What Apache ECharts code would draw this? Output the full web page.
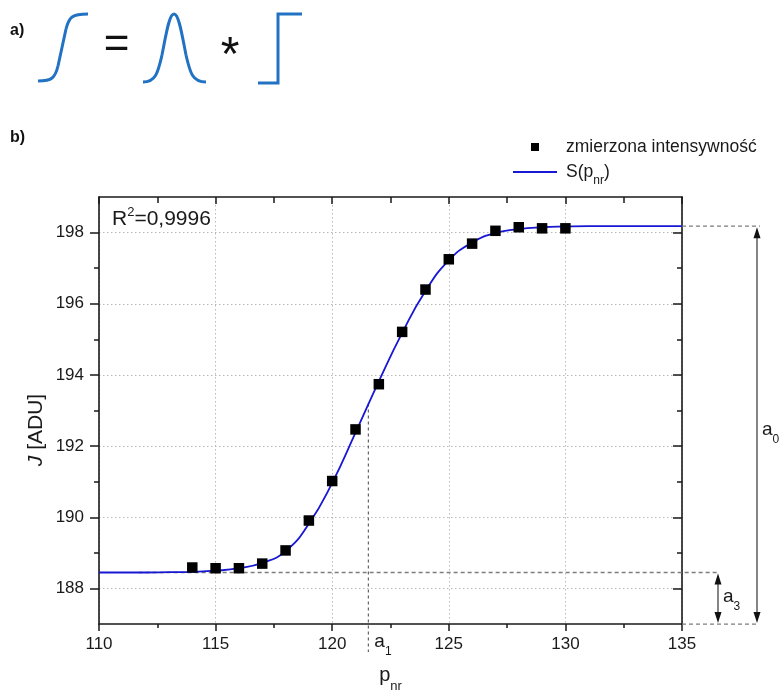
<!DOCTYPE html>
<html>
<head>
<meta charset="utf-8">
<script src="https://cdn.jsdelivr.net/npm/echarts@6/dist/echarts.min.js"></script>
<style>
html,body{margin:0;padding:0;background:#fff;}
#c{width:782px;height:698px;}
</style>
</head>
<body>
<div id="c"></div>
<script>
// ---- data ----
const pnr = [114,115,116,117,118,119,120,121,122,123,124,125,126,127,128,129,130];
const intensity = [188.59,188.57,188.57,188.70,189.07,189.91,191.02,192.47,193.74,195.21,196.40,197.25,197.69,198.05,198.15,198.12,198.12];
const fitP = [110,111,112,113,114,115,116,117,118,119,120,121,122,123,124,125,126,127,128,129,130,131,132,133,134,135];
const fitS = [188.45,188.45,188.45,188.46,188.47,188.50,188.57,188.72,189.05,189.82,190.97,192.38,193.82,195.18,196.36,197.22,197.72,197.99,198.10,198.15,198.17,198.18,198.18,198.18,198.18,198.18];
const yMajorTicks = [188,190,192,194,196,198];
const yMinorTicks = [189,191,193,195,197];
const xMin = 110, xMax = 135, xStep = 5;
const yMin = 187, yMax = 199;
const a1Value = 121.55;   // inflection point
const a1Level = 193.2;    // curve level at a1
const a3Value = 188.45;   // lower plateau
const a0Top = 198.18;     // upper plateau
const a3LineFrom = 111.7;

const FONT = '"Liberation Sans", Arial, sans-serif';
const TXT = '#1a1a1a';
const AX = '#1a1a1a';
const GRIDC = '#b9b9b9';
const BLUE_ICON = '#2272c3';
const CURVE = '#1717d4';

const chart = echarts.init(document.getElementById('c'), null, {renderer: 'canvas'});

const axLine = {show: true, onZero: false, lineStyle: {color: AX, width: 1.6}};
const tickStyle = {color: AX, width: 1.5};

const option = {
  animation: false,
  textStyle: {fontFamily: FONT},
  grid: {left: 99, right: 100, top: 197, bottom: 71, containLabel: false},
  legend: {
    orient: 'vertical',
    left: 508, top: 133, padding: 5,
    itemWidth: 44, itemHeight: 8, itemGap: 1,
    symbolKeepAspect: true,
    data: [
      {name: 'zmierzona intensywność', icon: 'path://M0,0H10V10H0Z', itemStyle: {color: '#000', opacity: 1}},
      {name: 'S(pnr)', icon: 'path://M0,0H44V1.8H0Z', itemStyle: {color: CURVE}}
    ],
    formatter: function (name) {
      if (name === 'S(pnr)') return '{f|S(p}{s|nr}{b|)}';
      return '{f|' + name + '}';
    },
    textStyle: {
      color: TXT, fontFamily: FONT,
      rich: {
        f: {fontSize: 17.5, lineHeight: 20, padding: [0, 0, 0, 4], fontFamily: FONT, color: TXT, verticalAlign: 'middle'},
        b: {fontSize: 17.5, lineHeight: 20, fontFamily: FONT, color: TXT, verticalAlign: 'middle'},
        s: {fontSize: 12, lineHeight: 12, padding: [18, 0, 0, 0], fontFamily: FONT, color: TXT, verticalAlign: 'middle'}
      }
    }
  },
  xAxis: [
    {
      type: 'value', min: xMin, max: xMax, interval: xStep, position: 'bottom',
      axisLine: axLine,
      axisTick: {show: true, inside: false, length: 7, lineStyle: tickStyle},
      minorTick: {show: true, splitNumber: 2, length: 4, lineStyle: tickStyle},
      axisLabel: {show: true, fontSize: 17, color: TXT, fontFamily: FONT, margin: 12},
      splitLine: {show: true, lineStyle: {color: GRIDC, width: 1, type: [1.5, 2.5]}},
      name: '{p|p}{s|nr}', nameLocation: 'middle', nameGap: 32,
      nameTextStyle: {
        rich: {
          p: {fontSize: 20, lineHeight: 22, fontFamily: FONT, color: TXT, verticalAlign: 'middle'},
          s: {fontSize: 13, lineHeight: 13, padding: [22, 0, 0, 0], fontFamily: FONT, color: TXT, verticalAlign: 'middle'}
        }
      }
    },
    {
      type: 'value', min: xMin, max: xMax, interval: xStep, position: 'top',
      axisLine: axLine,
      axisTick: {show: true, inside: true, length: 7, lineStyle: tickStyle},
      minorTick: {show: true, splitNumber: 2, length: 6, lineStyle: tickStyle},
      axisLabel: {show: false},
      splitLine: {show: false}
    }
  ],
  yAxis: [
    {
      type: 'value', min: yMin, max: yMax, position: 'left',
      axisLine: axLine,
      axisTick: {show: true, inside: false, length: 9, customValues: yMajorTicks, lineStyle: tickStyle},
      axisLabel: {show: true, customValues: yMajorTicks, fontSize: 17, color: TXT, fontFamily: FONT, margin: 15},
      splitLine: {show: true, lineStyle: {color: GRIDC, width: 1, type: [1.5, 2.5]}}
    },
    {
      type: 'value', min: yMin, max: yMax, position: 'left',
      axisLine: {show: false},
      axisTick: {show: true, inside: false, length: 5, customValues: yMinorTicks, lineStyle: tickStyle},
      axisLabel: {show: false},
      splitLine: {show: false}
    },
    {
      type: 'value', min: yMin, max: yMax, position: 'right',
      axisLine: axLine,
      axisTick: {show: true, inside: true, length: 9, customValues: yMajorTicks, lineStyle: tickStyle},
      axisLabel: {show: false},
      splitLine: {show: false}
    },
    {
      type: 'value', min: yMin, max: yMax, position: 'right',
      axisLine: {show: false},
      axisTick: {show: true, inside: true, length: 5, customValues: yMinorTicks, lineStyle: tickStyle},
      axisLabel: {show: false},
      splitLine: {show: false}
    }
  ],
  series: [
    {
      name: 'S(pnr)', type: 'line', xAxisIndex: 0, yAxisIndex: 0,
      data: fitP.map((p, i) => [p, fitS[i]]),
      symbol: 'none', smooth: 0.5,
      lineStyle: {color: CURVE, width: 1.8},
      itemStyle: {color: CURVE},
      z: 3
    },
    {
      name: 'zmierzona intensywność', type: 'scatter', xAxisIndex: 0, yAxisIndex: 0,
      data: pnr.map((p, i) => [p, intensity[i]]),
      symbol: 'rect', symbolSize: 10.5,
      itemStyle: {color: '#000', opacity: 1},
      z: 4
    }
  ]
};
chart.setOption(option);

function buildGraphics() {
  const P = (x, y) => chart.convertToPixel({xAxisIndex: 0, yAxisIndex: 0}, [x, y]);
  const yBot = P(xMin, yMin)[1];
  const xR = P(xMax, yMin)[0];
  const y3 = P(xMin, a3Value)[1];
  const yT = P(xMin, a0Top)[1];
  const xa1 = P(a1Value, yMin)[0];
  const ya1 = P(a1Value, a1Level)[1];
  const x3s = P(a3LineFrom, a3Value)[0];
  const arA3 = xR + 36, arA0 = xR + 75;
  const dash = {stroke: '#7d7d7d', lineWidth: 1.3, lineDash: [4, 3], fill: null};
  const dark = {stroke: '#222', lineWidth: 1.1, fill: null};
  const icon = {stroke: BLUE_ICON, lineWidth: 3, fill: null};
  const bz = (x1, y1, c1x, c1y, c2x, c2y, x2, y2) => ({
    type: 'bezierCurve',
    shape: {x1: x1, y1: y1, cpx1: c1x, cpy1: c1y, cpx2: c2x, cpy2: c2y, x2: x2, y2: y2},
    style: icon
  });
  const head = (x, y, dir) => ({
    type: 'polygon', z: 10,
    shape: {points: [[x, y], [x - 3.5, y + dir * 11], [x + 3.5, y + dir * 11]]},
    style: {fill: '#111', stroke: null}
  });
  const richSub = (x, y, base, sub, bs, ss, shift) => ({
    type: 'text', x: x, y: y, z: 10,
    style: {
      text: '{b|' + base + '}{s|' + sub + '}',
      textAlign: 'left', textVerticalAlign: 'middle',
      rich: {
        b: {fontSize: bs, lineHeight: bs + 2, fontFamily: FONT, fill: TXT, color: TXT, verticalAlign: 'middle'},
        s: {fontSize: ss, lineHeight: ss, padding: [shift, 0, 0, 0], fontFamily: FONT, fill: TXT, color: TXT, verticalAlign: 'middle'}
      }
    }
  });
  const els = [
    // ---- part a) schematic ----
    {type: 'text', x: 10, y: 31, style: {text: 'a)', font: 'bold 16px ' + FONT, fill: '#111', textVerticalAlign: 'middle'}},
    bz(38, 81, 52, 81, 55, 78, 58, 66),
    {type: 'line', shape: {x1: 58, y1: 66, x2: 66, y2: 29}, style: icon},
    bz(66, 29, 69, 17, 72, 14, 88, 14),
    {type: 'text', x: 116.5, y: 46, style: {text: '=', font: '44px ' + FONT, fill: '#111', textAlign: 'center', textVerticalAlign: 'middle'}},
    bz(143, 82, 156, 82, 158, 72, 162, 55),
    bz(162, 55, 166, 35, 169, 14, 174, 14),
    bz(174, 14, 179, 14, 182, 35, 186, 55),
    bz(186, 55, 190, 72, 192, 82, 206, 82),
    {type: 'text', x: 230, y: 56.5, style: {text: '*', font: '48px ' + FONT, fill: '#111', textAlign: 'center', textVerticalAlign: 'middle'}},
    {type: 'polyline', shape: {points: [[258, 83], [278, 83], [278, 14], [302, 14]]}, style: icon},
    // ---- part b) label ----
    {type: 'text', x: 10, y: 138, style: {text: 'b)', font: 'bold 16px ' + FONT, fill: '#111', textVerticalAlign: 'middle'}},
    // R^2
    {type: 'text', x: 112, y: 219, z: 10, style: {
      text: '{b|R}{s|2}{b|=0,9996}', textAlign: 'left', textVerticalAlign: 'middle',
      rich: {
        b: {fontSize: 21, lineHeight: 24, fontFamily: FONT, fill: TXT, color: TXT, verticalAlign: 'middle'},
        s: {fontSize: 13, lineHeight: 13, padding: [0, 0, 13, 0], fontFamily: FONT, fill: TXT, color: TXT, verticalAlign: 'middle'}
      }}},
    // y axis title
    {type: 'text', x: 36, y: 430, rotation: Math.PI / 2, style: {
      text: '{i|J}{b| [ADU]}', textAlign: 'center', textVerticalAlign: 'middle',
      rich: {
        i: {fontSize: 21, fontStyle: 'italic', fontFamily: FONT, fill: TXT, color: TXT},
        b: {fontSize: 21, fontFamily: FONT, fill: TXT, color: TXT}
      }}},
    // dashed helper lines
    {type: 'line', z: 1, shape: {x1: x3s, y1: y3, x2: arA3, y2: y3}, style: dash},
    {type: 'line', z: 1, shape: {x1: xR, y1: yT, x2: arA0 + 3, y2: yT}, style: dash},
    {type: 'line', z: 1, shape: {x1: xR, y1: yBot, x2: arA0 + 2, y2: yBot}, style: dash},
    {type: 'line', z: 1, shape: {x1: xa1, y1: ya1, x2: xa1, y2: yBot + 28}, style: {stroke: '#555', lineWidth: 1.1, lineDash: [3, 3], fill: null}},
    // a3 arrow
    {type: 'line', z: 10, shape: {x1: arA3, y1: y3 + 4, x2: arA3, y2: yBot - 4}, style: dark},
    head(arA3, y3 + 1, 1), head(arA3, yBot - 1, -1),
    // a0 arrow
    {type: 'line', z: 10, shape: {x1: arA0, y1: yT + 4, x2: arA0, y2: yBot - 4}, style: dark},
    head(arA0, yT + 1, 1), head(arA0, yBot - 1, -1),
    // labels
    richSub(arA0 + 5, 430, 'a', '0', 19, 12, 19),
    richSub(arA3 + 5, 597, 'a', '3', 19, 12, 19),
    richSub(xa1 + 6, 642, 'a', '1', 19, 12, 19)
  ];
  chart.setOption({graphic: {elements: els}});
}
buildGraphics();
</script>
</body>
</html>
